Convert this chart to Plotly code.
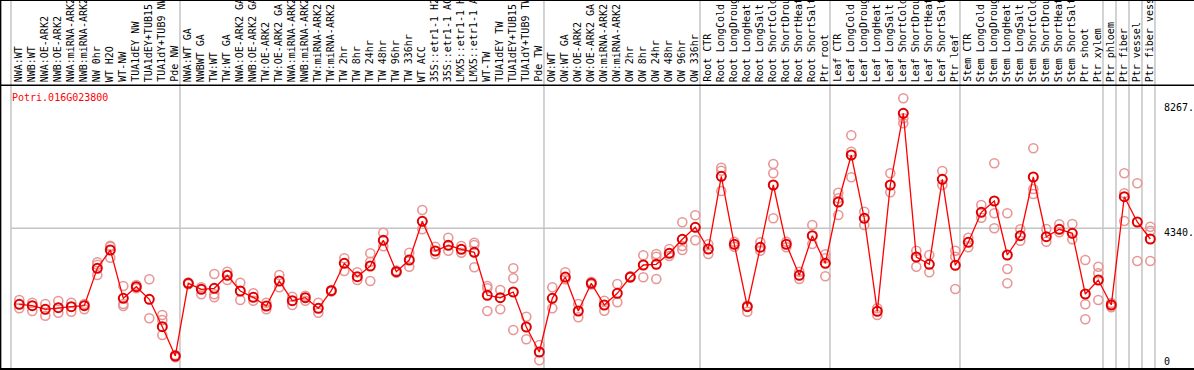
import plotly.graph_objects as go

gene_id = "Potri.016G023800"

categories = [
    "NWA:WT", "NWB:WT", "NWA:OE-ARK2", "NWB:OE-ARK2", "NWA:miRNA-ARK2", "NWB:miRNA-ARK2",
    "NW 0hr", "WT H2O", "WT-NW", "TUA1dEY NW", "TUA1dEY+TUB15", "TUA1dY+TUB9 NW", "Pde NW",
    "NWA:WT GA", "NWBWT GA", "TW:WT", "TW:WT GA", "NWA:OE-ARK2 GA", "NWB:OE-ARK2 GA",
    "TW:OE-ARK2", "TW:OE-ARK2 GA", "NWA:miRNA-ARK2", "NWB:miRNA-ARK2", "TW:miRNA-ARK2",
    "TW:miRNA-ARK2", "TW 2hr", "TW 8hr", "TW 24hr", "TW 48hr", "TW 96hr", "TW 336hr",
    "WT ACC", "35S::etr1-1 H2", "35S::etr1-1 AC", "LMX5::etr1-1 H", "LMX5::etr1-1 A",
    "WT-TW", "TUA1dEY TW", "TUA1dEY+TUB15", "TUA1dY+TUB9 TW", "Pde TW",
    "OW:WT", "OW:WT GA", "OW:OE-ARK2", "OW:OE-ARK2 GA", "OW:miRNA-ARK2", "OW:miRNA-ARK2",
    "OW 2hr", "OW 8hr", "OW 24hr", "OW 48hr", "OW 96hr", "OW 336hr",
    "Root CTR", "Root LongCold", "Root LongDroug", "Root LongHeat", "Root LongSalt",
    "Root ShortCold", "Root ShortDrou", "Root ShortHeat", "Root ShortSalt", "Ptr root",
    "Leaf CTR", "Leaf LongCold", "Leaf LongDroug", "Leaf LongHeat", "Leaf LongSalt",
    "Leaf ShortCold", "Leaf ShortDrou", "Leaf ShortHeat", "Leaf ShortSalt", "Ptr leaf",
    "Stem CTR", "Stem LongCold", "Stem LongDroug", "Stem LongHeat", "Stem LongSalt",
    "Stem ShortCold", "Stem ShortDrou", "Stem ShortHeat", "Stem ShortSalt", "Ptr shoot",
    "Ptr xylem", "Ptr phloem", "Ptr fiber", "Ptr vessel", "Ptr fiber vess",
]

means = [
    2044, 2001, 1893, 1941, 1971, 2001, 3131, 3684, 2225, 2575, 2195, 1367, 482,
    2678, 2497, 2527, 2920, 2446, 2255, 1992, 2748, 2153, 2243, 1923, 2455, 3282,
    2878, 3201, 3977, 3029, 3382, 4551, 3654, 3826, 3705, 3615, 2316, 2243, 2415,
    1358, 603,
    2225, 2868, 1841, 2678, 2023, 2376, 2868, 3231, 3252, 3585, 4008, 4370,
    3714, 5911, 3856, 1971, 3766, 5648, 3856, 2920, 4116, 3282,
    5134, 6554, 4642, 1832, 5648, 7814, 3473, 3252, 5820, 3222,
    3917, 4823, 5165, 3533, 4116, 5890, 4086, 4310, 4189, 2355,
    2778, 2023, 5294, 4530, 4017,
]

replicates = [
    [2174, 1923], [2092, 1841], [2053, 1699], [2143, 1790], [2092, 1820], [2053, 1893],
    [3313, 3240, 2929], [3814, 3786, 3452], [2597, 2053, 1992], [2627, 2527],
    [2799, 1621], [1720, 1569, 1116], [512, 443],
    [2650, 2700], [2557, 2346], [2959, 2346, 2255], [3029, 2778], [2696, 2174],
    [2376, 2153], [2092, 1893], [2929, 2557], [2273, 2023], [2304, 2153],
    [2092, 1790], [2477, 2430], [3434, 3050], [3011, 2778], [3585, 3331, 2748],
    [4207, 3796], [3000, 3060], [3603, 3180], [4893, 4310], [3784, 3554],
    [4056, 3663], [3805, 3603], [3905, 3835, 3162], [2597, 2527, 1841],
    [2477, 1893], [3131, 2829, 1267], [1669, 986], [814, 352],
    [2557, 1923], [3011, 2800], [2053, 1651], [2727, 2640], [2153, 1850],
    [2657, 2104], [2850, 2890], [3524, 2859], [3563, 3482, 2808], [3714, 3503],
    [4521, 3805, 3684], [4733, 3977],
    [3856, 3563], [6171, 6080, 5467], [3935, 3784], [1820, 2000], [3917, 3663],
    [6282, 6001, 4642], [3935, 3766], [3029, 2808], [4440, 3866], [3554, 3434, 2890],
    [5415, 5246, 4742], [7149, 6654, 5881], [4841, 4440], [1923, 1720], [6001, 5427],
    [8267, 7663, 7512], [3663, 3180], [3533, 3011], [6071, 5648], [3663, 3482, 2506],
    [4056, 3766], [5044, 4660], [6303, 4793, 4340], [4793, 3110, 2678], [4310, 3965],
    [6757, 5527, 5376], [4319, 3935], [4461, 4219], [4470, 4008], [3382, 2044, 1591],
    [3180, 2980, 2174], [1953, 2080], [6001, 5397, 4560], [5699, 3352], [4388, 4267, 3352],
]

group_starts = [0, 13, 41, 53, 63, 73, 84, 85, 86, 87, 88]
y_mid_value = 4340
y_max_label = "8267."
y_mid_label = "4340."
y_min_label = "0"

W, H = 1194, 370
X0_PX, STEP_PX = 19.3, 13.0

idx = list(range(len(categories)))
rep_x, rep_y = [], []
for i, vals in enumerate(replicates):
    for v in vals:
        rep_x.append(i)
        rep_y.append(v)

fig = go.Figure()
fig.add_trace(go.Scatter(
    x=rep_x, y=rep_y, mode="markers",
    marker=dict(symbol="circle-open", size=9, color="#e89696", line=dict(width=1.6)),
    hoverinfo="skip", showlegend=False,
))
fig.add_trace(go.Scatter(
    x=idx, y=means, mode="lines+markers",
    line=dict(color="#ff0000", width=1.3),
    marker=dict(symbol="circle-open", size=9, color="#e00000", line=dict(width=2)),
    text=categories, showlegend=False,
))

shapes = []
line_black = dict(color="black", width=2)
# frame
shapes.append(dict(type="line", xref="paper", yref="paper", x0=0, x1=1, y0=1, y1=1, line=line_black))
shapes.append(dict(type="line", xref="paper", yref="paper", x0=0, x1=1,
                   y0=1 - 85.3 / H, y1=1 - 85.3 / H, line=dict(color="black", width=1.5)))
shapes.append(dict(type="line", xref="paper", yref="paper", x0=0, x1=1,
                   y0=1 - 369 / H, y1=1 - 369 / H, line=line_black))
shapes.append(dict(type="line", xref="paper", yref="paper", x0=0.6 / W, x1=0.6 / W,
                   y0=0, y1=1, line=dict(color="black", width=1.5)))
# group separators
for g in group_starts:
    shapes.append(dict(type="line", xref="x", yref="paper", x0=g - 0.64, x1=g - 0.64,
                       y0=0, y1=1, line=dict(color="#c4c4c4", width=1.5), layer="below"))
# mid gridline
shapes.append(dict(type="line", xref="x", yref="y", x0=group_starts[0] - 0.64,
                   x1=group_starts[-1] - 0.64, y0=y_mid_value, y1=y_mid_value,
                   line=dict(color="#c4c4c4", width=1.5), layer="below"))

font_mono = "DejaVu Sans Mono"
annotations = []
for i, c in enumerate(categories):
    annotations.append(dict(
        x=i, y=1 - 84 / H, xref="x", yref="paper", text=c, showarrow=False,
        textangle=-90, xanchor="center", yanchor="bottom", xshift=-1,
        font=dict(family=font_mono, size=10, color="black"),
    ))
annotations.append(dict(
    x=9.5 / W, y=1 - 97 / H, xref="paper", yref="paper", text=gene_id, showarrow=False,
    xanchor="left", yanchor="middle", font=dict(family=font_mono, size=10, color="#ff0000"),
))
for txt, ypx in [(y_max_label, 107.3), (y_mid_label, 232.0), (y_min_label, 361.7)]:
    annotations.append(dict(
        x=1162 / W, y=1 - ypx / H, xref="paper", yref="paper", text=txt, showarrow=False,
        xanchor="left", yanchor="middle", font=dict(family=font_mono, size=10, color="black"),
    ))

# axis ranges so that index -> pixel and value -> pixel match the reference
x_lo = (0 - X0_PX) / STEP_PX
x_hi = (W - X0_PX) / STEP_PX
PX_PER_UNIT = 0.0331
Y_ZERO_PX = 371.95
y_lo = (Y_ZERO_PX - H) / PX_PER_UNIT
y_hi = Y_ZERO_PX / PX_PER_UNIT

fig.update_layout(
    width=W, height=H, margin=dict(l=0, r=0, t=0, b=0),
    paper_bgcolor="white", plot_bgcolor="white",
    xaxis=dict(range=[x_lo, x_hi], visible=False, showgrid=False, zeroline=False),
    yaxis=dict(range=[y_lo, y_hi], visible=False, showgrid=False, zeroline=False),
    shapes=shapes, annotations=annotations, showlegend=False,
)

fig.write_html(
    "out.html",
    config={"displayModeBar": False},
    post_script="document.body.style.margin='0';document.body.style.overflow='hidden';",
)
